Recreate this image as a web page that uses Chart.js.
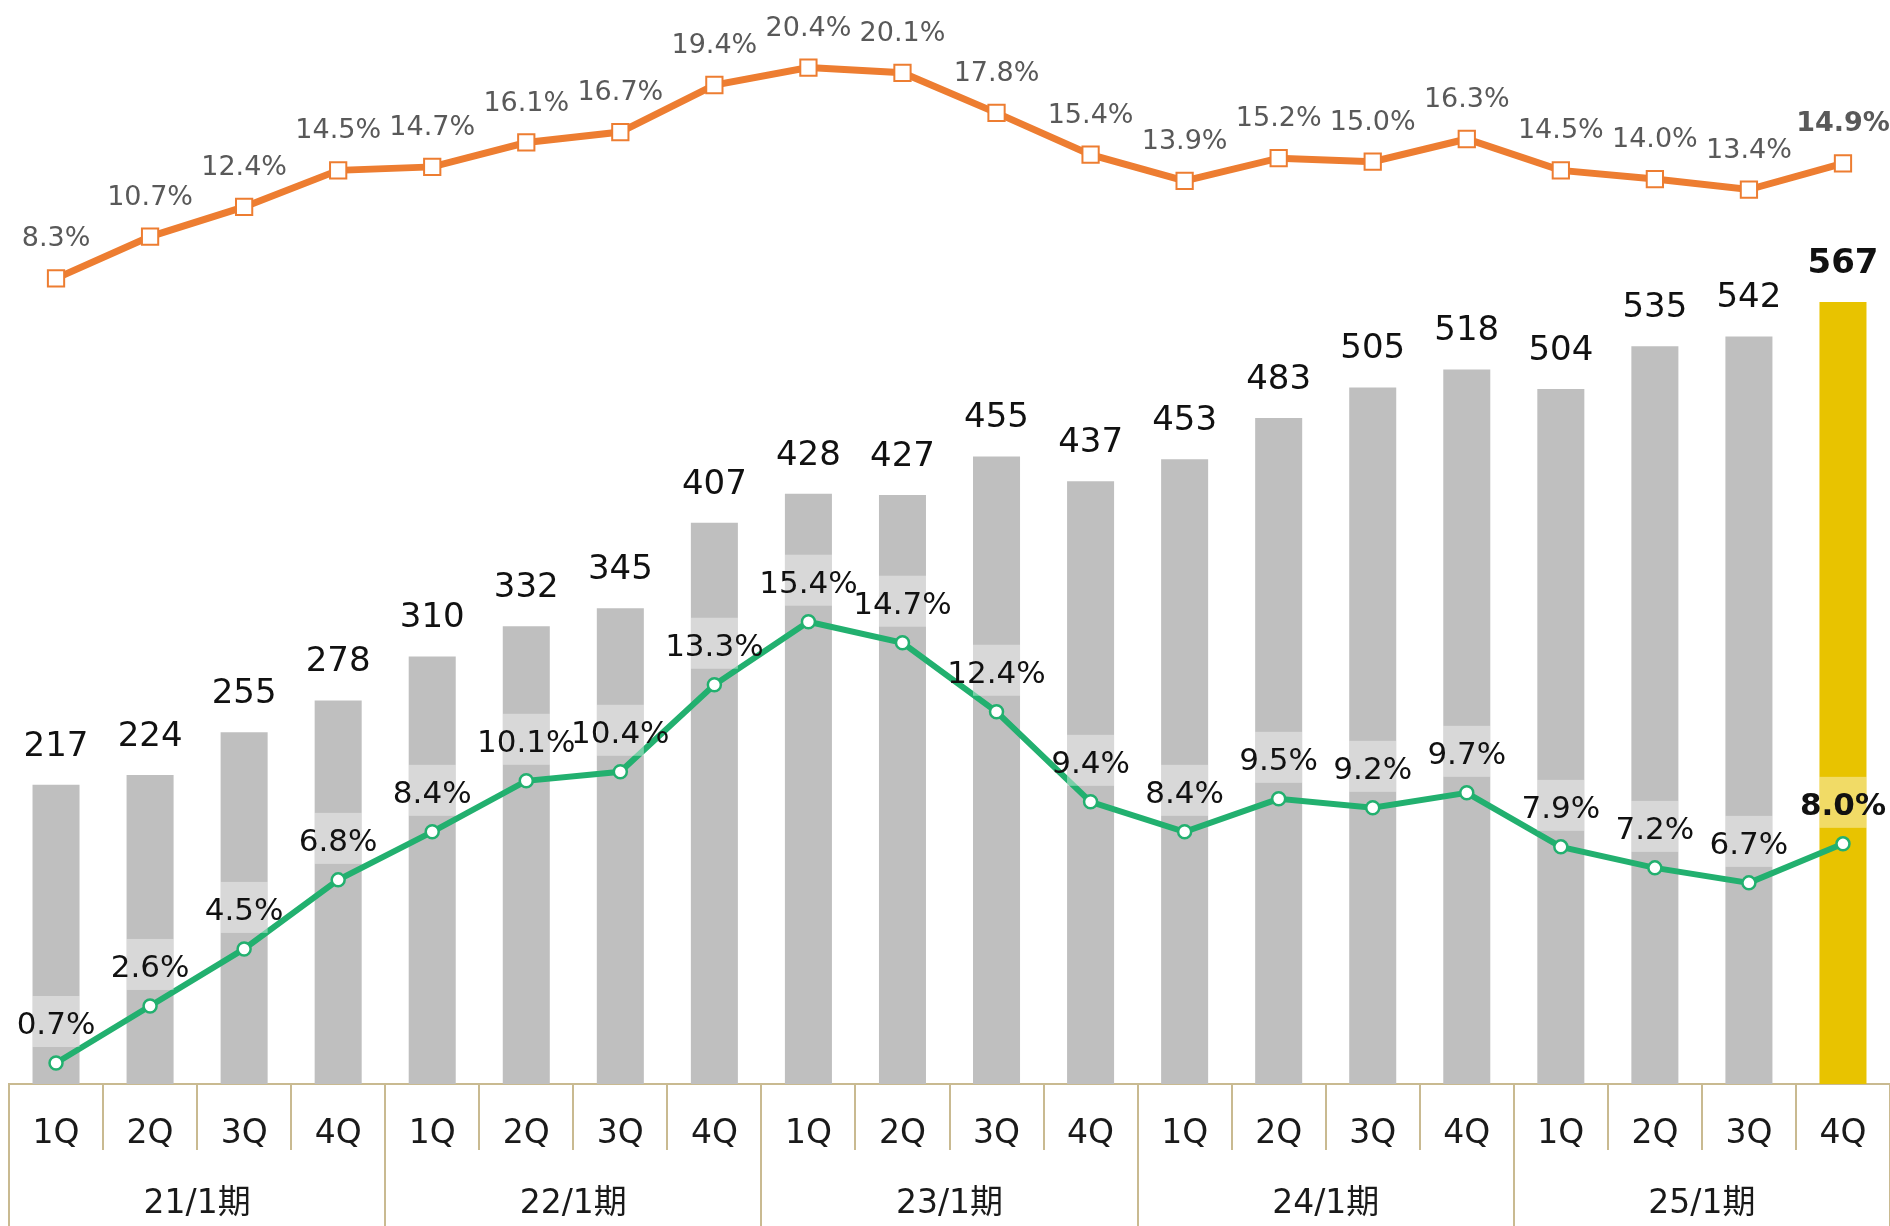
<!DOCTYPE html>
<html>
<head>
<meta charset="utf-8">
<script src="https://cdn.jsdelivr.net/npm/chart.js@4"></script>
<style>
  html, body { margin: 0; padding: 0; background: #ffffff; }
  #wrap { width: 1890px; height: 1226px; position: relative; }
</style>
</head>
<body>
<div id="wrap"><canvas id="grafico"></canvas></div>
<script>
// datos
const trimestres = ['1Q', '2Q', '3Q', '4Q', '1Q', '2Q', '3Q', '4Q', '1Q', '2Q', '3Q', '4Q', '1Q', '2Q', '3Q', '4Q', '1Q', '2Q', '3Q', '4Q'];
const periodos = ['21/1期', '22/1期', '23/1期', '24/1期', '25/1期'];
const ventas = [217, 224, 255, 278, 310, 332, 345, 407, 428, 427, 455, 437, 453, 483, 505, 518, 504, 535, 542, 567];
const margenNaranja = [8.3, 10.7, 12.4, 14.5, 14.7, 16.1, 16.7, 19.4, 20.4, 20.1, 17.8, 15.4, 13.9, 15.2, 15.0, 16.3, 14.5, 14.0, 13.4, 14.9];
const margenVerde = [0.7, 2.6, 4.5, 6.8, 8.4, 10.1, 10.4, 13.3, 15.4, 14.7, 12.4, 9.4, 8.4, 9.5, 9.2, 9.7, 7.9, 7.2, 6.7, 8.0];

const FUENTE = "'DejaVu Sans', 'Noto Sans CJK JP', sans-serif";
const ultimo = ventas.length - 1;

const coloresBarras = ventas.map((v, i) => i === ultimo ? '#e8c300' : '#bfbfbf');

// etiquetas dibujadas a mano (no hay plugin datalabels)
const etiquetas = {
    id: 'etiquetas',
    afterDatasetsDraw(chart) {
        const ctx = chart.ctx;
        const barras = chart.getDatasetMeta(0).data;
        const puntosN = chart.getDatasetMeta(1).data;
        const puntosV = chart.getDatasetMeta(2).data;
        ctx.save();
        ctx.textAlign = 'center';
        ctx.textBaseline = 'middle';

        // valores encima de las barras
        barras.forEach((b, i) => {
            ctx.fillStyle = '#111111';
            ctx.font = (i === ultimo ? 'bold ' : '') + '34px ' + FUENTE;
            ctx.fillText(String(ventas[i]), b.x, b.y - 38);
        });

        // linea naranja
        puntosN.forEach((p, i) => {
            ctx.fillStyle = '#595959';
            ctx.font = (i === ultimo ? 'bold ' : '') + '27px ' + FUENTE;
            ctx.fillText(margenNaranja[i].toFixed(1) + '%', p.x, p.y - 39);
        });

        // linea verde con caja semitransparente del ancho de la barra
        puntosV.forEach((p, i) => {
            const b = barras[i];
            ctx.fillStyle = 'rgba(255,255,255,0.4)';
            ctx.fillRect(b.x - b.width / 2, p.y - 67, b.width, 51);
            ctx.fillStyle = '#111111';
            ctx.font = (i === ultimo ? 'bold ' : '') + '31px ' + FUENTE;
            ctx.fillText(margenVerde[i].toFixed(1) + '%', p.x, p.y - 37);
        });
        ctx.restore();
    }
};

const ctx = document.getElementById('grafico').getContext('2d');
const grafico = new Chart(ctx, {
    type: 'bar',
    data: {
        labels: trimestres,
        datasets: [{
            label: 'ventas',
            data: ventas,
            backgroundColor: coloresBarras,
            categoryPercentage: 1,
            barPercentage: 0.5,
            yAxisID: 'y',
            order: 3
        }, {
            type: 'line',
            label: 'naranja',
            data: margenNaranja,
            borderColor: '#ed7d31',
            borderWidth: 7,
            pointStyle: 'rect',
            pointRadius: 11.5,
            pointBorderWidth: 2,
            pointBackgroundColor: '#ffffff',
            pointBorderColor: '#ed7d31',
            tension: 0,
            yAxisID: 'yN',
            order: 2
        }, {
            type: 'line',
            label: 'verde',
            data: margenVerde,
            borderColor: '#22b06f',
            borderWidth: 6,
            pointRadius: 6.5,
            pointBorderWidth: 2.5,
            pointBackgroundColor: '#ffffff',
            pointBorderColor: '#22b06f',
            tension: 0,
            yAxisID: 'yV',
            order: 1
        }]
    },
    options: {
        responsive: true,
        maintainAspectRatio: false,
        animation: false,
        layout: { autoPadding: false, padding: { left: 9, right: 0, top: 0, bottom: 0 } },
        plugins: {
            legend: { display: false },
            tooltip: { enabled: false }
        },
        scales: {
            x: {
                position: 'bottom',
                weight: 0,
                grid: {
                    offset: true,
                    drawOnChartArea: false,
                    drawTicks: true,
                    tickLength: 66,
                    color: '#c9ba91',
                    lineWidth: 2
                },
                border: { color: '#c9ba91', width: 2 },
                ticks: {
                    color: '#1a1a1a',
                    font: { family: FUENTE, size: 33 },
                    padding: -35,
                    maxRotation: 0,
                    autoSkip: false
                },
                afterFit(scale) { scale.height = 66; }
            },
            x2: {
                type: 'category',
                labels: periodos,
                position: 'bottom',
                weight: 1,
                grid: {
                    offset: true,
                    drawOnChartArea: false,
                    drawTicks: true,
                    tickLength: 76,
                    color: '#c9ba91',
                    lineWidth: 2
                },
                border: { display: false },
                ticks: {
                    color: '#1a1a1a',
                    font: { family: FUENTE, size: 33 },
                    padding: -41,
                    maxRotation: 0,
                    autoSkip: false
                },
                afterFit(scale) { scale.height = 76; }
            },
            y: { display: false, min: 0, max: 786 },
            yV: { display: false, min: 0, max: 36.11 },
            yN: { display: false, min: -37.95, max: 24.28 }
        }
    },
    plugins: [etiquetas]
});
</script>
</body>
</html>
